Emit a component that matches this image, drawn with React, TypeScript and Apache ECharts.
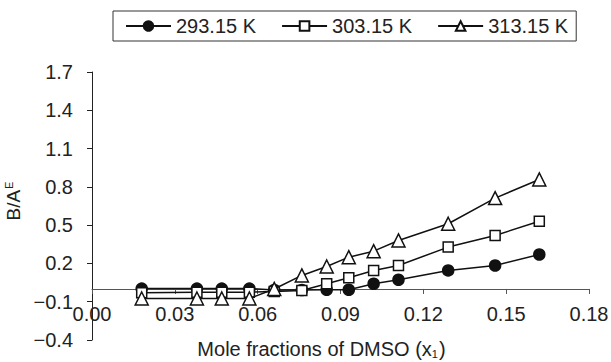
import React, { useEffect, useRef } from "react";
import * as echarts from "echarts";

const xValues = [0.018, 0.038, 0.047, 0.057, 0.066, 0.076, 0.085, 0.093, 0.102, 0.111, 0.129, 0.146, 0.162];
const seriesNames = ["293.15 K", "303.15 K", "313.15 K"];
const y293 = [0.003, 0.003, 0.003, 0.003, -0.008, -0.008, -0.006, -0.006, 0.041, 0.072, 0.145, 0.184, 0.27];
const y303 = [-0.03, -0.025, -0.025, -0.025, -0.02, -0.012, 0.041, 0.088, 0.145, 0.184, 0.328, 0.419, 0.531];
const y313 = [-0.075, -0.075, -0.075, -0.075, 0.0, 0.106, 0.176, 0.249, 0.296, 0.38, 0.511, 0.712, 0.858];
const symbols = ["circle", "rect", "triangle"];
const symbolSizes = [11, 10, 13];
const fills = ["#111", "#fff", "#fff"];

const FONT = "'Liberation Sans', Arial, sans-serif";

const Y_MIN = -0.4;
const Y_MAX = 1.7;
const GRID_TOP = 72;
const GRID_BOTTOM = 22;
const H = 362;

export default function App() {
  const ref = useRef<HTMLDivElement>(null);
  useEffect(() => {
    if (!ref.current) return;
    const chart = echarts.init(ref.current, undefined, { renderer: "svg" });
    const allY = [y293, y303, y313];
    const gridH = H - GRID_TOP - GRID_BOTTOM;
    const zeroOffset = -((0 - Y_MIN) / (Y_MAX - Y_MIN)) * gridH;
    chart.setOption({
      animation: false,
      textStyle: { fontFamily: FONT },
      legend: {
        top: 11,
        left: 113,
        data: seriesNames,
        itemWidth: 45,
        itemHeight: 12,
        itemGap: 25,
        padding: [5, 8, 5, 12],
        borderColor: "#333",
        borderWidth: 1,
        borderRadius: 0,
        textStyle: { fontSize: 20, color: "#222", fontFamily: FONT },
      },
      grid: {
        left: 92,
        right: 22,
        top: GRID_TOP,
        bottom: GRID_BOTTOM,
        containLabel: false,
        outerBoundsMode: "none",
      },
      xAxis: {
        type: "value",
        min: 0,
        max: 0.18,
        interval: 0.03,
        offset: zeroOffset,
        name: "Mole fractions of DMSO (x{sub|1})",
        nameLocation: "middle",
        nameGap: 50,
        nameTextStyle: {
          fontSize: 20,
          color: "#222",
          fontFamily: FONT,
          padding: [0, 38, 0, 0],
          rich: { sub: { fontSize: 11, color: "#222", fontFamily: FONT, padding: [10, 1, 0, 0] } },
        },
        axisLine: { onZero: false, lineStyle: { color: "#555", width: 1 } },
        axisTick: { show: true, length: 5, lineStyle: { color: "#555" } },
        axisLabel: {
          fontSize: 20,
          color: "#222",
          margin: 15,
          formatter: (v: number) => v.toFixed(2),
        },
        splitLine: { show: false },
      },
      yAxis: {
        type: "value",
        min: Y_MIN,
        max: Y_MAX,
        interval: 0.3,
        name: "B/A{sup|E}",
        nameLocation: "middle",
        nameGap: 60,
        nameRotate: 90,
        nameTextStyle: {
          fontSize: 19,
          color: "#222",
          fontFamily: FONT,
          padding: [0, 0, 0, 10],
          rich: { sup: { fontSize: 11, color: "#222", fontFamily: FONT, padding: [0, 0, 9, 1] } },
        },
        axisLine: { show: true, onZero: false, lineStyle: { color: "#222", width: 1 } },
        axisTick: { show: true, length: 5, lineStyle: { color: "#222" } },
        axisLabel: {
          fontSize: 20,
          color: "#222",
          margin: 19,
          formatter: (v: number) => {
            const r = Math.round(v * 10) / 10;
            const s = Math.abs(r).toFixed(1);
            return r < 0 ? "\u2212" + s : s;
          },
        },
        splitLine: { show: false },
      },
      series: seriesNames.map((name, i) => ({
        name,
        type: "line",
        data: xValues.map((x, j) => [x, allY[i][j]]),
        symbol: symbols[i],
        symbolSize: symbolSizes[i],
        showAllSymbol: true,
        lineStyle: { color: "#111", width: 1.5 },
        itemStyle: { color: fills[i], borderColor: "#111", borderWidth: 1.5 },
        z: 3 + i,
      })),
    });
    return () => chart.dispose();
  }, []);
  return (
    <div
      ref={ref}
      style={{ position: "fixed", left: 0, top: 0, width: 611, height: 362, background: "#fff" }}
    />
  );
}
